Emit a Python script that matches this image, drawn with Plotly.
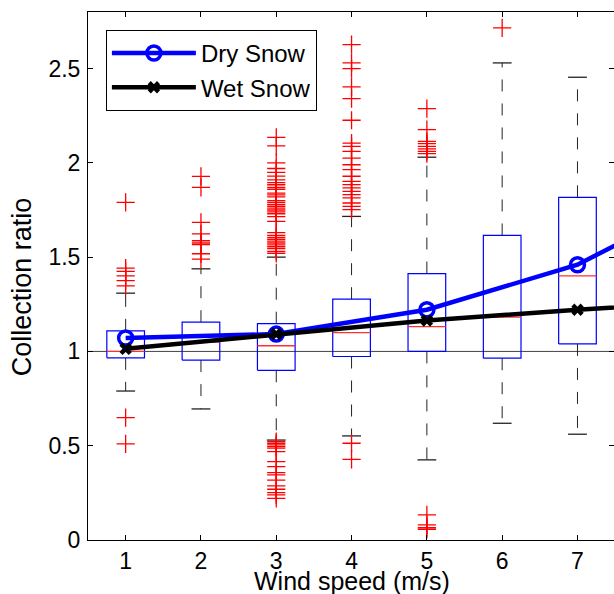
import plotly.graph_objects as go

# ---------------- data ----------------
positions = [1, 2, 3, 4, 5, 6, 7]
x_tick_labels = ["1", "2", "3", "4", "5", "6", "7"]
q1 = [0.966, 0.954, 0.900, 0.973, 1.000, 0.964, 1.040]
medians = [1.000, 1.050, 1.030, 1.100, 1.132, 1.182, 1.401]
q3 = [1.109, 1.155, 1.147, 1.277, 1.413, 1.615, 1.817]
lower_whisker = [0.790, 0.695, 0.530, 0.552, 0.425, 0.619, 0.561]
upper_whisker = [1.309, 1.438, 1.500, 1.716, 2.030, 2.530, 2.454]

outliers_1 = [1.79, 1.442, 1.424, 1.401, 1.375, 1.348, 0.649, 0.510]
outliers_2 = [1.928, 1.870, 1.684, 1.623, 1.587, 1.575, 1.566, 1.518, 1.490]
outliers_3 = [2.135, 2.090, 2.000, 1.970, 1.950, 1.930, 1.910, 1.895, 1.884,
              1.870, 1.860, 1.840, 1.830, 1.820, 1.800, 1.790, 1.780, 1.770,
              1.760, 1.750, 1.740, 1.730, 1.715, 1.690, 1.630, 1.615, 1.605,
              1.595, 1.585, 1.575, 1.565, 1.555, 1.545, 1.530, 1.520,
              0.522, 0.513, 0.504, 0.495, 0.487, 0.469, 0.416, 0.389, 0.357,
              0.345, 0.318, 0.287, 0.269, 0.251, 0.239, 0.221]
outliers_4 = [2.627, 2.530, 2.500, 2.403, 2.341, 2.226, 2.105, 2.087, 2.061,
              2.025, 1.990, 1.964, 1.929, 1.902, 1.885, 1.867, 1.849, 1.832,
              1.814, 1.787, 1.769, 1.752, 0.513, 0.428]
outliers_5 = [2.288, 2.176, 2.114, 2.102, 2.087, 2.074, 2.061, 2.049,
              0.133, 0.080, 0.065, 0.057]
outliers_6 = [2.716]
outliers_7 = []
outliers = [outliers_1, outliers_2, outliers_3, outliers_4,
            outliers_5, outliers_6, outliers_7]

dry_x = [1, 3, 5, 7, 9]
dry_y = [1.071, 1.092, 1.221, 1.460, 1.870]
wet_x = [1, 3, 5, 7, 9]
wet_y = [1.014, 1.092, 1.164, 1.221, 1.270]

y_ticks = [0, 0.5, 1, 1.5, 2, 2.5]
y_tick_labels = ["0", "0.5", "1", "1.5", "2", "2.5"]
ref_level = 1

# ---------------- styles ----------------
FONT = "Liberation Sans, Arial, Helvetica, sans-serif"
box_half = 0.25
cap_half = 0.125

box_x, box_y = [], []
med_x, med_y = [], []
wh_x, wh_y = [], []
cap_x, cap_y = [], []
out_x, out_y = [], []
for i, p in enumerate(positions):
    box_x += [p - box_half, p + box_half, p + box_half, p - box_half, p - box_half, None]
    box_y += [q1[i], q1[i], q3[i], q3[i], q1[i], None]
    med_x += [p - box_half, p + box_half, None]
    med_y += [medians[i], medians[i], None]
    wh_x += [p, p, None, p, p, None]
    wh_y += [q3[i], upper_whisker[i], None, q1[i], lower_whisker[i], None]
    cap_x += [p - cap_half, p + cap_half, None, p - cap_half, p + cap_half, None]
    cap_y += [upper_whisker[i], upper_whisker[i], None, lower_whisker[i], lower_whisker[i], None]
    for v in outliers[i]:
        out_x.append(p)
        out_y.append(v)

fig = go.Figure()
fig.add_trace(go.Scatter(x=wh_x, y=wh_y, mode="lines", showlegend=False, hoverinfo="skip",
                         line=dict(color="#222222", width=1, dash="12px,12px")))
fig.add_trace(go.Scatter(x=cap_x, y=cap_y, mode="lines", showlegend=False, hoverinfo="skip",
                         line=dict(color="#222222", width=1.3)))
fig.add_trace(go.Scatter(x=box_x, y=box_y, mode="lines", showlegend=False, hoverinfo="skip",
                         line=dict(color="#0000ff", width=1.2)))
fig.add_trace(go.Scatter(x=med_x, y=med_y, mode="lines", showlegend=False, hoverinfo="skip",
                         line=dict(color="#ff3030", width=1.3)))
fig.add_trace(go.Scatter(x=out_x, y=out_y, mode="markers", showlegend=False, hoverinfo="skip",
                         marker=dict(symbol="cross-thin", size=13, color="red",
                                     line=dict(color="red", width=1.3))))
fig.add_trace(go.Scatter(x=dry_x, y=dry_y, mode="lines+markers", name="Dry Snow",
                         legendgroup="a",
                         line=dict(color="#0000ff", width=4.5),
                         marker=dict(symbol="circle-open", size=14, color="#0000ff",
                                     line=dict(color="#0000ff", width=3.5))))
fig.add_trace(go.Scatter(x=wet_x, y=wet_y, mode="lines+markers", name="Wet Snow",
                         legendgroup="b",
                         line=dict(color="black", width=4.5),
                         marker=dict(symbol="x", size=11, color="black",
                                     line=dict(width=0))))

fig.add_shape(type="line", xref="paper", x0=0, x1=1, yref="y", y0=ref_level, y1=ref_level,
              line=dict(color="#444444", width=1), layer="below")

axis_common = dict(showline=True, linecolor="black", linewidth=1, mirror="ticks",
                   ticks="inside", ticklen=5, tickcolor="black", tickwidth=1,
                   showgrid=False, zeroline=False,
                   tickfont=dict(family=FONT, size=23, color="black"))

fig.update_layout(
    width=614, height=594,
    margin=dict(l=88, r=0, t=12, b=54, pad=0),
    paper_bgcolor="white", plot_bgcolor="white",
    font=dict(family=FONT, color="black"),
    xaxis=dict(range=[0.5, 7.485], tickvals=positions, ticktext=x_tick_labels,
               ticklabelstandoff=0, **axis_common),
    yaxis=dict(range=[0, 2.8], tickvals=y_ticks, ticktext=y_tick_labels,
               ticklabelstandoff=2, **axis_common),
    legend=dict(x=0.034, y=0.966, xanchor="left", yanchor="top",
                bgcolor="white", bordercolor="black", borderwidth=1,
                font=dict(family=FONT, size=24, color="black"),
                itemwidth=84, tracegroupgap=0),
    annotations=[
        dict(text="Wind speed (m/s)", xref="paper", yref="paper",
             x=0.502, y=-0.078, xanchor="center", yanchor="middle",
             showarrow=False, font=dict(family=FONT, size=25, color="black")),
        dict(text="Collection ratio", xref="paper", yref="paper",
             x=-0.125, y=0.479, xanchor="center", yanchor="middle", textangle=-90,
             showarrow=False, font=dict(family=FONT, size=27, color="black")),
    ],
)

fig.write_html("out.html")
